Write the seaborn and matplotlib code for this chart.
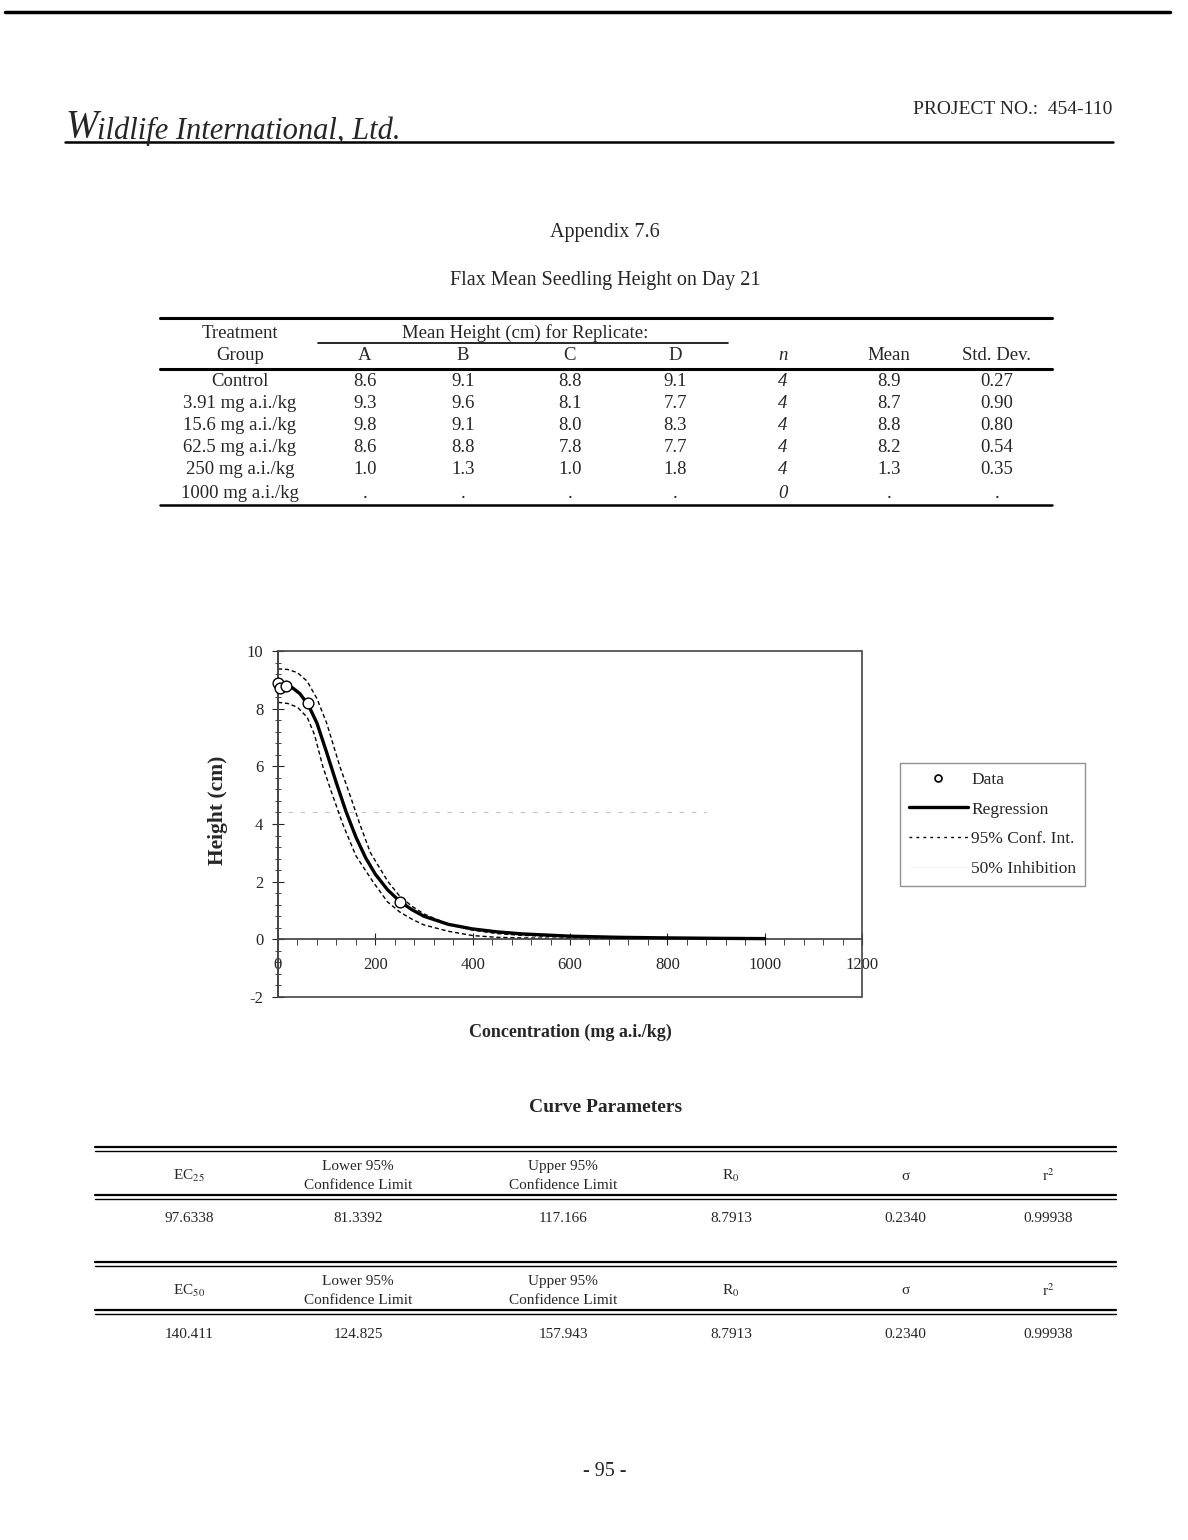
import matplotlib
matplotlib.use("Agg")
import matplotlib.pyplot as plt
import seaborn as sns
import pandas as pd
from matplotlib.lines import Line2D
from matplotlib.patches import Rectangle
from matplotlib.ticker import MultipleLocator

# ---- data ----
groups = ["Control", "3.91 mg a.i./kg", "15.6 mg a.i./kg", "62.5 mg a.i./kg",
          "250 mg a.i./kg", "1000 mg a.i./kg"]
rep_a = ["8.6", "9.3", "9.8", "8.6", "1.0", "."]
rep_b = ["9.1", "9.6", "9.1", "8.8", "1.3", "."]
rep_c = ["8.8", "8.1", "8.0", "7.8", "1.0", "."]
rep_d = ["9.1", "7.7", "8.3", "7.7", "1.8", "."]
n_obs = ["4", "4", "4", "4", "4", "0"]
means = ["8.9", "8.7", "8.8", "8.2", "1.3", "."]
std_devs = ["0.27", "0.90", "0.80", "0.54", "0.35", "."]

# plotted data points (concentration, mean height)
conc = [0, 3.91, 15.6, 62.5, 250]
mean_height = [8.9, 8.7, 8.8, 8.2, 1.3]

# regression curve, estimated from the figure
reg_x = [0, 15, 30, 45, 62.5, 80, 100, 120, 140, 160, 180, 200, 225, 250, 275,
         300, 350, 400, 450, 500, 600, 700, 800, 900, 1000]
reg_y = [8.80, 8.78, 8.72, 8.52, 8.12, 7.50, 6.48, 5.42, 4.42, 3.55, 2.83, 2.26,
         1.72, 1.32, 1.03, 0.80, 0.52, 0.36, 0.26, 0.19, 0.11, 0.07, 0.05, 0.035, 0.025]

# 95% confidence band, estimated from the figure
upper_x = [0, 20, 40, 60, 80, 100, 127, 150, 168, 190, 226, 250, 275, 300, 350,
           400, 450, 500, 600, 740]
upper_y = [9.38, 9.36, 9.25, 8.95, 8.35, 7.50, 6.00, 4.90, 4.00, 3.00, 2.00, 1.50,
           1.15, 0.88, 0.52, 0.32, 0.20, 0.14, 0.08, 0.05]
lower_x = [0, 20, 40, 60, 75, 92, 110, 133, 160, 195, 225, 250, 275, 300, 350,
           400, 450, 500, 600, 740]
lower_y = [8.22, 8.18, 8.05, 7.70, 7.10, 6.00, 5.10, 4.00, 2.90, 2.00, 1.30, 0.95,
           0.70, 0.50, 0.28, 0.13, 0.07, 0.05, 0.03, 0.02]

inhibition_level = 4.4

# curve parameter tables
param_headers = ["Lower 95%\nConfidence Limit", "Upper 95%\nConfidence Limit",
                 "R$_0$", "σ", "r$^2$"]
ec25_values = ["97.6338", "81.3392", "117.166", "8.7913", "0.2340", "0.99938"]
ec50_values = ["140.411", "124.825", "157.943", "8.7913", "0.2340", "0.99938"]

# ---- page setup ----
sns.set_theme(style="ticks")
plt.rcParams["font.family"] = ["Liberation Serif", "DejaVu Serif"]
plt.rcParams["mathtext.fontset"] = "stix"
plt.rcParams["axes.unicode_minus"] = False

W, H = 1188, 1540
fig = plt.figure(figsize=(W / 100, H / 100), dpi=100)
fig.patch.set_facecolor("white")


def ftext(x, y, s, **kw):
    kw.setdefault("ha", "center")
    kw.setdefault("va", "center")
    kw.setdefault("fontsize", 13)
    fig.text(x / W, 1 - y / H, s, **kw)


def hline(y, x0, x1, lw=1.0, color="black"):
    fig.add_artist(Line2D([x0 / W, x1 / W], [1 - y / H] * 2,
                          transform=fig.transFigure, lw=lw, color=color))


# header
hline(12, 5, 1170, lw=2.5)
ftext(65, 127, "W", ha="left", fontsize=28, style="italic")
ftext(97, 131, "ildlife International, Ltd.", ha="left", fontsize=22, style="italic")
hline(142, 65, 1113, lw=1.8)
ftext(1112, 110, "PROJECT NO.:  454-110", ha="right", fontsize=14)

ftext(605, 232, "Appendix 7.6", fontsize=14.5)
ftext(605, 281, "Flax Mean Seedling Height on Day 21", fontsize=14.5)

# ---- table 1 ----
hline(318, 160, 1052, lw=2.2)
ftext(240, 333, "Treatment", fontsize=13.5)
ftext(525, 333, "Mean Height (cm) for Replicate:", fontsize=13.5)
hline(343, 318, 728, lw=1.2)
col_x = [365, 463, 570, 675, 783, 889, 997]
head2 = ["A", "B", "C", "D", "n", "Mean", "Std. Dev."]
ftext(240, 355, "Group", fontsize=13.5)
for cx, h in zip(col_x, head2):
    ftext(cx, 355, h, fontsize=13.5, style="italic" if h == "n" else "normal")
hline(369, 160, 1052, lw=2.2)
row_y = [381, 403, 425, 448, 470, 493]
for i, ry in enumerate(row_y):
    ftext(240, ry, groups[i], fontsize=13.5)
    vals = [rep_a[i], rep_b[i], rep_c[i], rep_d[i], n_obs[i], means[i], std_devs[i]]
    for j, (cx, v) in enumerate(zip(col_x, vals)):
        ftext(cx, ry, v, fontsize=13.5, style="italic" if j == 4 else "normal")
hline(505, 160, 1052, lw=1.8)

# ---- chart ----
ax = fig.add_axes([278 / W, 1 - 997 / H, (862 - 278) / W, (997 - 651) / H])
ax.set_xlim(0, 1200)
ax.set_ylim(-2, 10)

inh = pd.DataFrame({"x": [20, 880], "y": [inhibition_level] * 2})
sns.lineplot(data=inh, x="x", y="y", ax=ax, color="#c4c4c4", lw=0.8,
             linestyle=(0, (4, 7)), zorder=1)

up = pd.DataFrame({"x": upper_x, "y": upper_y})
lo = pd.DataFrame({"x": lower_x, "y": lower_y})
sns.lineplot(data=up, x="x", y="y", ax=ax, color="black", lw=1.0,
             linestyle=(0, (3, 2)), zorder=2)
sns.lineplot(data=lo, x="x", y="y", ax=ax, color="black", lw=1.0,
             linestyle=(0, (3, 2)), zorder=2)

reg = pd.DataFrame({"x": reg_x, "y": reg_y})
sns.lineplot(data=reg, x="x", y="y", ax=ax, color="black", lw=2.4, zorder=3)

pts = pd.DataFrame({"x": conc, "y": mean_height})
sns.scatterplot(data=pts, x="x", y="y", ax=ax, s=60, facecolor="white",
                edgecolor="black", linewidth=1.0, zorder=6)
for coll in ax.collections:
    coll.set_clip_on(False)

ax.spines["bottom"].set_position(("data", 0))
ax.spines["top"].set_visible(False)
ax.spines["right"].set_visible(False)
ax.spines["bottom"].set_color("#444444")
ax.spines["left"].set_color("#444444")
ax.add_patch(Rectangle((0, 0), 1, 1, transform=ax.transAxes, fill=False,
                       lw=1.2, ec="#444444", zorder=5, clip_on=False))

ax.xaxis.set_major_locator(MultipleLocator(200))
ax.xaxis.set_minor_locator(MultipleLocator(40))
ax.yaxis.set_major_locator(MultipleLocator(2))
ax.yaxis.set_minor_locator(MultipleLocator(0.4))
ax.tick_params(axis="x", which="major", direction="inout", length=9, width=0.8,
               labelsize=12, pad=8)
ax.tick_params(axis="x", which="minor", direction="out", length=4, width=0.6)
ax.tick_params(axis="y", which="major", direction="inout", length=9, width=0.8,
               labelsize=12, pad=6)
ax.tick_params(axis="y", which="minor", direction="inout", length=4, width=0.6)
ax.set_xlabel("Concentration (mg a.i./kg)", fontsize=13, fontweight="bold")
ax.set_ylabel("Height (cm)", fontsize=15.5, fontweight="bold")
ax.xaxis.set_label_coords((570 - 278) / 584, (997 - 1024) / 346)
ax.yaxis.set_label_coords((228 - 278) / 584, (997 - 810) / 346)
ax.grid(False)

handles = [
    Line2D([], [], ls="none", marker="o", ms=5, mfc="white", mec="black", mew=1.2),
    Line2D([], [], color="black", lw=2.4),
    Line2D([], [], color="black", lw=1.0, ls=(0, (2, 3))),
    Line2D([], [], color="#f4f4f4", lw=0.6),
]
labels = ["Data", "Regression", "95% Conf. Int.", "50% Inhibition"]
leg = fig.legend(handles, labels, loc="upper left",
                 bbox_to_anchor=(900 / W, 1 - 763 / H), bbox_transform=fig.transFigure,
                 frameon=True, fancybox=False, fontsize=12.5, handlelength=3.4,
                 handletextpad=0.2, labelspacing=0.78, borderpad=0.5,
                 borderaxespad=0)
leg.get_frame().set_edgecolor("#777777")
leg.get_frame().set_linewidth(1.0)

# ---- curve parameters ----
ftext(606, 1108, "Curve Parameters", fontsize=14, fontweight="bold")
param_x = [358, 563, 731, 905, 1048]
first_x = 189


def param_block(y_top, ec_label, values):
    hline(y_top, 95, 1116, lw=1.6)
    hline(y_top + 4, 95, 1116, lw=1.0)
    ftext(first_x, y_top + 29, ec_label, fontsize=11)
    for px, h in zip(param_x, param_headers):
        ftext(px, y_top + 29, h, fontsize=11, linespacing=1.6)
    hline(y_top + 48, 95, 1116, lw=1.6)
    hline(y_top + 52, 95, 1116, lw=1.0)
    for px, v in zip([first_x] + param_x, values):
        ftext(px, y_top + 72, v, fontsize=11)


param_block(1147, "EC$_{25}$", ec25_values)
param_block(1262, "EC$_{50}$", ec50_values)

ftext(605, 1472, "- 95 -", fontsize=14.5)

fig.savefig("out.png", dpi=100, facecolor="white")
